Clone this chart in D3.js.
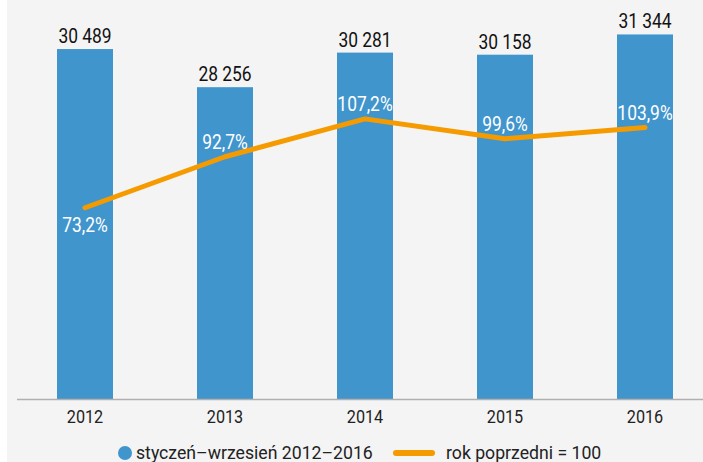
<!DOCTYPE html>
<html>
<head>
<meta charset="utf-8">
<script src="https://cdn.jsdelivr.net/npm/d3@7/dist/d3.min.js"></script>
<style>
html,body{margin:0;padding:0;background:#fff;}
svg{display:block;}
text{font-family:"Roboto","Liberation Sans",sans-serif;}
</style>
</head>
<body>
<svg id="chart" width="703" height="462"></svg>
<script>
const years = ["2012","2013","2014","2015","2016"];
const values = [30489, 28256, 30281, 30158, 31344];
const valueLabels = ["30 489","28 256","30 281","30 158","31 344"];
const pct = [73.2, 92.7, 107.2, 99.6, 103.9];
const pctLabels = ["73,2%","92,7%","107,2%","99,6%","103,9%"];
const pctLabelSide = ["below","above","above","above","above"];
const legendLabels = ["styczeń–wrzesień 2012–2016","rok poprzedni = 100"];

const W = 703, H = 462;
const svg = d3.select("#chart");
const barColor = "#4195cd", lineColor = "#f59b00";
const SX = 0.87;

function condText(sel, px, py, sx) {
  sel.attr("transform", (d,i) => `translate(${px(d,i)},${py(d,i)}) scale(${sx},1)`);
}

svg.append("rect").attr("x",7).attr("y",0).attr("width",W-7).attr("height",H).attr("fill","#f4f4f4");

const baseY = 399;
const x = d3.scaleBand().domain(years).range([15,715]).paddingInner(0.6).paddingOuter(0.3);
const y = d3.scaleLinear().domain([10000, 32000]).range([baseY, baseY - 22000*0.01708]);
const y2 = d3.scaleLinear().domain([0, 150]).range([baseY, baseY - 150*2.613]);
const cx = (i)=>x(years[i])+x.bandwidth()/2;

// bars
svg.selectAll("rect.bar").data(values).enter().append("rect")
  .attr("class","bar")
  .attr("x",(d,i)=>x(years[i]))
  .attr("width",x.bandwidth())
  .attr("y",d=>y(d))
  .attr("height",d=>baseY - y(d))
  .attr("fill",barColor);

// axis
const axis = d3.axisBottom(x).tickSize(0).tickPadding(0);
const gx = svg.append("g").attr("transform",`translate(0,${baseY})`).call(axis);
gx.select(".domain").remove();
gx.selectAll(".tick text").attr("font-size",18).attr("fill","#222")
  .attr("font-family",'"Roboto",sans-serif').attr("y",0).attr("dy",0)
  .attr("transform",`translate(0,24) scale(0.9,1)`);
svg.append("line").attr("x1",17).attr("x2",W).attr("y1",baseY+0.5).attr("y2",baseY+0.5)
  .attr("stroke","#b0b0b0").attr("stroke-width",1.5);

// value labels
svg.selectAll("text.val").data(values).enter().append("text")
  .attr("class","val")
  .attr("text-anchor","middle")
  .attr("font-size",20).attr("fill","#111")
  .call(condText, (d,i)=>cx(i), d=>y(d)-6, SX)
  .text((d,i)=>valueLabels[i]);

// line
const line = d3.line().x((d,i)=>cx(i)).y(d=>y2(d));
svg.append("path").datum(pct).attr("d",line).attr("fill","none")
  .attr("stroke",lineColor).attr("stroke-width",5).attr("stroke-linecap","round").attr("stroke-linejoin","round");

// pct labels
svg.selectAll("text.pct").data(pct).enter().append("text")
  .attr("class","pct")
  .attr("text-anchor","middle")
  .attr("font-size",20).attr("fill","#fff")
  .call(condText, (d,i)=>cx(i), (d,i)=>pctLabelSide[i]==="below" ? y2(d)+24 : y2(d)-8, SX)
  .text((d,i)=>pctLabels[i]);

// legend
const lg = svg.append("g");
lg.append("circle").attr("cx",125).attr("cy",453).attr("r",7).attr("fill",barColor);
lg.append("text").attr("font-size",19).attr("fill","#222")
  .attr("transform","translate(136,459) scale(0.93,1)").text(legendLabels[0]);
lg.append("line").attr("x1",396).attr("x2",432).attr("y1",453).attr("y2",453)
  .attr("stroke",lineColor).attr("stroke-width",6).attr("stroke-linecap","round");
lg.append("text").attr("font-size",19).attr("fill","#222")
  .attr("transform","translate(446,459) scale(0.93,1)").text(legendLabels[1]);
</script>
</body>
</html>
